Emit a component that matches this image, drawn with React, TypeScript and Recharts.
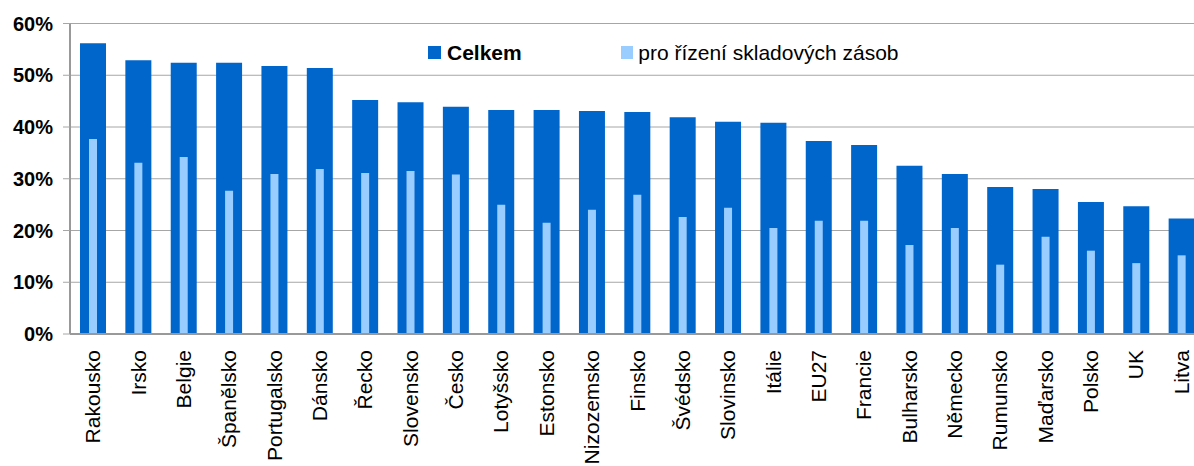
import React from 'react';
import { BarChart, Bar, XAxis, YAxis, CartesianGrid } from 'recharts';

const categories = ['Rakousko', 'Irsko', 'Belgie', 'Španělsko', 'Portugalsko', 'Dánsko', 'Řecko', 'Slovensko', 'Česko', 'Lotyšsko', 'Estonsko', 'Nizozemsko', 'Finsko', 'Švédsko', 'Slovinsko', 'Itálie', 'EU27', 'Francie', 'Bulharsko', 'Německo', 'Rumunsko', 'Maďarsko', 'Polsko', 'UK', 'Litva'];
const celkem = [56.2, 52.9, 52.4, 52.4, 51.8, 51.4, 45.2, 44.8, 43.9, 43.3, 43.3, 43.1, 42.9, 41.9, 41.0, 40.8, 37.3, 36.5, 32.5, 30.9, 28.4, 28.0, 25.5, 24.7, 22.3];
const zasoby = [37.7, 33.1, 34.2, 27.7, 30.9, 31.9, 31.1, 31.5, 30.8, 25.0, 21.5, 24.0, 26.9, 22.6, 24.4, 20.5, 21.9, 21.9, 17.2, 20.5, 13.4, 18.8, 16.1, 13.7, 15.2];
const yTicks = [0, 10, 20, 30, 40, 50, 60];
const seriesNames = ['Celkem', 'pro řízení skladových zásob'];

const data = categories.map((c, i) => ({ name: c, celkem: celkem[i], zasoby: zasoby[i] }));

const FONT = '"Liberation Sans", Arial, sans-serif';
const DARK = '#0066CC';
const LIGHT = '#99CCFF';

const XTick = (props: any) => {
  const { x, y, payload } = props;
  return (
    <text
      transform={`translate(${x},${y}) rotate(-90)`}
      textAnchor="end"
      dy={7.5}
      fontFamily={FONT}
      fontSize={21}
      fill="#000"
    >
      {payload.value}
    </text>
  );
};

const LegendBox = () => (
  <div style={{ position: 'absolute', left: 428, top: 41.5, display: 'flex', alignItems: 'center', fontFamily: FONT, fontSize: 21, lineHeight: '21px', color: '#000', whiteSpace: 'nowrap' }}>
    <span style={{ display: 'inline-block', width: 12.5, height: 13, background: DARK, marginRight: 6.5 }} />
    <span style={{ fontWeight: 'bold', marginRight: 99 }}>{seriesNames[0]}</span>
    <span style={{ display: 'inline-block', width: 12.5, height: 13, background: LIGHT, marginRight: 5 }} />
    <span>{seriesNames[1]}</span>
  </div>
);

export default function App() {
  return (
    <div style={{ position: 'absolute', left: 0, top: 0, width: 1194, height: 466, overflow: 'hidden', background: '#fff' }}>
      <BarChart
        width={1204}
        height={466}
        data={data}
        margin={{ top: 23.5, right: 0, bottom: 2, left: 0 }}
      >
        <CartesianGrid vertical={false} stroke="#a6a6a6" strokeWidth={1} />
        <XAxis
          xAxisId="a"
          dataKey="name"
          interval={0}
          height={130}
          tick={<XTick />}
          tickLine={false}
          tickSize={0}
          tickMargin={16}
          axisLine={{ stroke: '#999', strokeWidth: 2 }}
        />
        <XAxis xAxisId="b" dataKey="name" hide />
        <YAxis
          width={70}
          domain={[0, 60]}
          ticks={yTicks}
          tickFormatter={(v: number) => `${v}%`}
          tick={{ fontFamily: FONT, fontSize: 20, fontWeight: 'bold', fill: '#000' }}
          tickSize={7}
          tickMargin={10}
          tickLine={{ stroke: '#a6a6a6' }}
          axisLine={{ stroke: '#999', strokeWidth: 2 }}
          interval={0}
        />
        <Bar xAxisId="a" dataKey="celkem" name={seriesNames[0]} fill={DARK} barSize={26} isAnimationActive={false} />
        <Bar xAxisId="b" dataKey="zasoby" name={seriesNames[1]} fill={LIGHT} barSize={8} isAnimationActive={false} />
      </BarChart>
      <LegendBox />
    </div>
  );
}
